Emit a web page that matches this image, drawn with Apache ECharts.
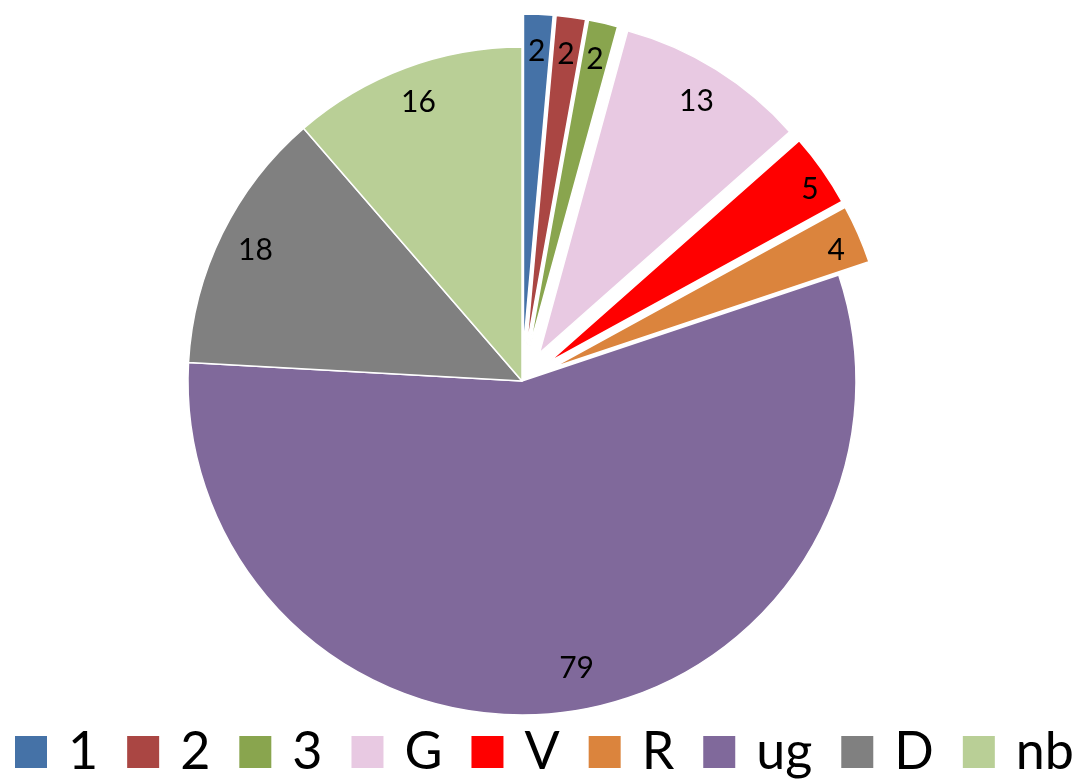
<!DOCTYPE html>
<html>
<head>
<meta charset="utf-8">
<script src="https://cdn.jsdelivr.net/npm/echarts@6/dist/echarts.min.js"></script>
<style>
  html, body { margin: 0; padding: 0; background: #fff; }
  #chart { width: 1076px; height: 781px; }
</style>
</head>
<body>
<div id="chart"></div>
<script>
const categories = ['1', '2', '3', 'G', 'V', 'R', 'ug', 'D', 'nb'];
const values = [2, 2, 2, 13, 5, 4, 79, 18, 16];
const pulledOut = ['1', '2', '3', 'G', 'V', 'R'];
const colors = ['#4572A7', '#AA4643', '#89A54E', '#E8C9E2', '#FF0000', '#DB843D', '#80699B', '#808080', '#B9CF96'];

const FONT = 'Lato, "Open Sans", sans-serif';
const CENTER = [522, 381];
const R = 334;
const OFFSET = 33;

// small hand nudges for value labels that sit off the default ring position
const labelNudge = { V: [18, -2], R: [12, 2], ug: [15, -7] };

const chart = echarts.init(document.getElementById('chart'), null, { renderer: 'canvas' });
chart.setOption({
  animation: false,
  backgroundColor: '#fff',
  legend: {
    data: categories,
    top: 724,
    left: 13,
    padding: 0,
    itemWidth: 34,
    itemHeight: 34,
    itemGap: 27,
    icon: 'rect',
    selectedMode: false,
    textStyle: { fontFamily: FONT, fontSize: 52, lineHeight: 56, color: '#000', padding: [0, 0, 0, 15] }
  },
  series: [
    {
      name: 'slices',
      type: 'pie',
      center: CENTER,
      radius: R,
      startAngle: 90,
      clockwise: true,
      selectedMode: 'multiple',
      selectedOffset: OFFSET,
      silent: true,
      label: { show: false },
      labelLine: { show: false },
      itemStyle: { borderColor: '#fff', borderWidth: 1.5 },
      emphasis: { disabled: true },
      data: categories.map((name, i) => ({
        name,
        value: values[i],
        selected: pulledOut.includes(name),
        itemStyle: { color: colors[i] }
      }))
    },
    {
      // transparent ring used only to place the value labels near the rim
      name: 'labels',
      type: 'pie',
      center: CENTER,
      radius: [R * 0.76, R],
      startAngle: 90,
      clockwise: true,
      selectedMode: 'multiple',
      selectedOffset: OFFSET,
      silent: true,
      itemStyle: { color: 'rgba(0,0,0,0)', borderWidth: 0 },
      label: {
        show: true,
        position: 'inside',
        formatter: '{c}',
        fontFamily: FONT,
        fontSize: 30,
        color: '#000'
      },
      labelLine: { show: false },
      labelLayout: function (params) {
        const n = labelNudge[categories[params.dataIndex]];
        return n ? { dx: n[0], dy: n[1] } : {};
      },
      emphasis: { disabled: true },
      data: categories.map((name, i) => ({
        name,
        value: values[i],
        selected: pulledOut.includes(name)
      }))
    }
  ]
});
</script>
</body>
</html>
